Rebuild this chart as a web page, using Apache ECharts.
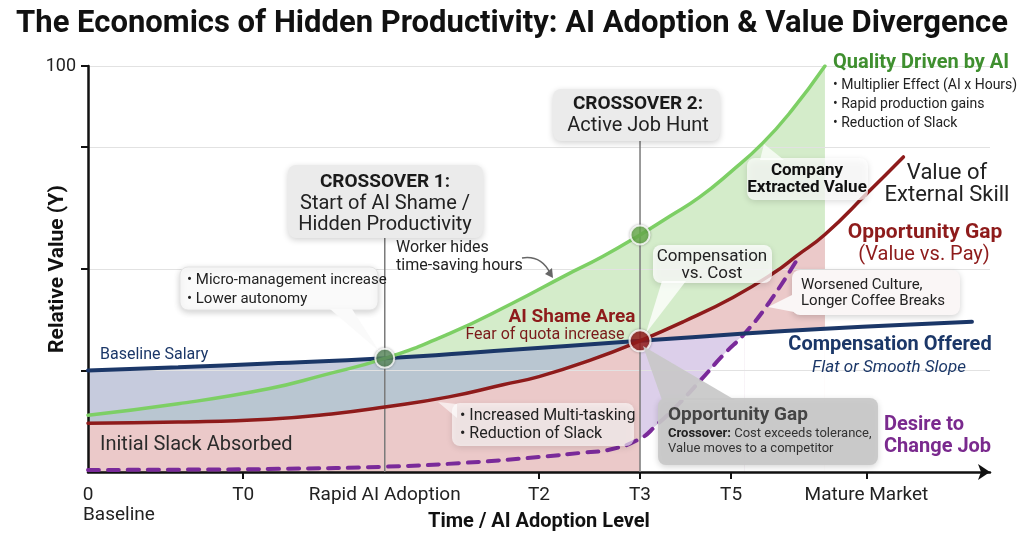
<!DOCTYPE html>
<html>
<head>
<meta charset="utf-8">
<script src="https://cdn.jsdelivr.net/npm/echarts@6/dist/echarts.min.js"></script>
<style>
  html, body { margin: 0; padding: 0; background: #fff; }
  #chart { width: 1024px; height: 538px; }
</style>
</head>
<body>
<div id="chart"></div>
<script>
// x is a 0..100 "adoption level" scale, y is relative value 0..100
const xTickPos = [0, 17.2, 32.9, 50, 61.2, 71.3, 86.3]
const xTickLabels = ['0', 'T0', 'Rapid AI Adoption', 'T2', 'T3', 'T5', 'Mature Market']

const cross1X = 32.9   // crossover 1 (AI shame starts)
const cross2X = 61.2   // crossover 2 (active job hunt)
const purpleCrossX = 72.8 // desire-to-change line meets compensation line
const greenEndX = 81.7

// Quality Driven by AI
const qualityAI = [[0, 14], [10, 16.8], [20, 20.5], [26, 23.8], [32.9, 28], [40, 34], [47, 41.5], [53, 48.5],
  [57, 53], [61.2, 58.4], [64.5, 63], [67.8, 67.7], [71.3, 74], [74.8, 81], [78, 89], [81.7, 100]]
// Value of External Skill
const externalSkill = [[0, 12], [10, 12.3], [20, 13], [27, 14.3], [32.9, 16], [40, 18.5], [46, 21.5], [50, 23.5],
  [56, 27.8], [61.2, 32.3], [66, 37], [71.5, 43], [76, 49], [78.6, 53.3], [81.7, 58.5], [86.4, 68.7], [90.4, 77.6]]
// Compensation Offered / Baseline Salary
const compensation = [[0, 25], [10, 25.8], [20, 26.7], [32.9, 28], [45, 29.8], [61.2, 32.3], [72.8, 34.1],
  [81.7, 35.3], [90, 36.2], [98, 37]]
// Desire to Change Job
const desireChange = [[0, 0.5], [12, 0.6], [22, 0.8], [32.9, 1.3], [42, 2.3], [50, 3.7], [55, 4.8], [58, 5.6],
  [61.2, 8.2], [63, 11.5], [65.5, 16.8], [68, 22.8], [70.5, 29], [72.8, 34.1], [75.6, 42], [78.8, 53]]

const cross1Point = [[32.9, 28]]
const cross2Green = [[61.2, 58.4]]
const cross2Red = [[61.2, 32.3]]

const FONT = 'Roboto, "Noto Sans", sans-serif'

function between(arr, a, b) {
  return arr.filter(p => p[0] >= a - 1e-9 && p[0] <= b + 1e-9)
}

function fill(name, data, color) {
  return {
    name: name,
    type: 'line',
    data: data,
    smooth: true,
    symbol: 'none',
    silent: true,
    z: 1,
    lineStyle: { width: 0, opacity: 0 },
    areaStyle: { color: color, opacity: 1, origin: 'start' }
  }
}

function curve(name, data, color, width, type) {
  return {
    name: name,
    type: 'line',
    data: data,
    smooth: true,
    symbol: 'none',
    z: 4,
    lineStyle: { color: color, width: width, type: type || 'solid', cap: 'round' }
  }
}

function guide(x, top) {
  return {
    type: 'line',
    data: [[x, 0], [x, top]],
    symbol: 'none',
    z: 3,
    lineStyle: { color: '#7a7a7a', width: 1.5 }
  }
}

function dot(data, color, size) {
  return {
    type: 'scatter',
    data: data,
    symbolSize: size,
    z: 5,
    itemStyle: { color: color, borderColor: '#fff', borderWidth: 2, shadowBlur: 3, shadowColor: 'rgba(0,0,0,0.3)' }
  }
}

function txt(x, y, text, size, opts) {
  opts = opts || {}
  return {
    type: 'text', x: x, y: y, z: 110,
    style: {
      text: text,
      fontFamily: FONT,
      fontSize: size,
      fontWeight: opts.bold ? 'bold' : 'normal',
      fontStyle: opts.italic ? 'italic' : 'normal',
      fill: opts.color || '#222',
      align: opts.align || 'left',
      verticalAlign: 'middle',
      lineHeight: opts.lh || size + 2,
      rich: opts.rich
    }
  }
}

function box(x, y, w, h, color, pointer, stroke) {
  const els = [{
    type: 'rect', z: 100,
    shape: { x: x, y: y, width: w, height: h, r: 8 },
    style: { fill: color, stroke: stroke || null, lineWidth: 1, shadowBlur: 6, shadowOffsetY: 2, shadowColor: 'rgba(0,0,0,0.18)' }
  }]
  if (pointer) {
    els.push({ type: 'polygon', z: 101, shape: { points: pointer }, style: { fill: color } })
  }
  return els
}

const chart = echarts.init(document.getElementById('chart'))

chart.setOption({
  backgroundColor: '#fff',
  animation: false,
  title: {
    text: 'The Economics of Hidden Productivity: AI Adoption & Value Divergence',
    left: 'center',
    top: 4,
    textStyle: { fontFamily: FONT, fontSize: 31, fontWeight: 'bold', color: '#111' }
  },
  grid: { left: 88, right: 34, top: 66, bottom: 66, outerBoundsMode: 'none' },
  xAxis: {
    type: 'value', min: 0, max: 100, z: 2,
    name: 'Time / AI Adoption Level',
    nameLocation: 'middle',
    nameGap: 40,
    nameMoveOverlap: false,
    nameTextStyle: { fontFamily: FONT, fontSize: 20, fontWeight: 'bold', color: '#111' },
    axisLine: { lineStyle: { color: '#111', width: 2.5 }, symbol: ['none', 'arrow'], symbolSize: [12, 12] },
    axisTick: { show: true, customValues: [17.2, 50, 61.2, 71.3, 86.3], length: 7, lineStyle: { color: '#111', width: 2 } },
    axisLabel: {
      customValues: xTickPos,
      margin: 14,
      fontFamily: FONT, fontSize: 19, color: '#222',
      formatter: function (v) {
        const i = xTickPos.findIndex(p => Math.abs(p - v) < 1e-6)
        return i >= 0 ? xTickLabels[i] : ''
      }
    },
    splitLine: { show: false }
  },
  yAxis: {
    type: 'value', min: 0, max: 100, interval: 20, z: 2,
    name: 'Relative Value (Y)',
    nameLocation: 'middle',
    nameGap: 20,
    nameMoveOverlap: false,
    nameTextStyle: { fontFamily: FONT, fontSize: 21, fontWeight: 'bold', color: '#111' },
    axisLine: { show: true, lineStyle: { color: '#111', width: 2.5 } },
    axisTick: { show: true, customValues: [25, 50, 80, 100], length: 7, lineStyle: { color: '#111', width: 2 } },
    axisLabel: { customValues: [100], margin: 12, fontFamily: FONT, fontSize: 18, color: '#222' },
    splitLine: { show: true, lineStyle: { color: '#e2e2e2', width: 1 } }
  },
  series: [
    fill('greenFill', between(qualityAI, cross1X, greenEndX), '#d4ecca'),
    fill('blueFillA', between(compensation, 0, cross1X), '#c6cbdd'),
    fill('blueFillB', between(qualityAI, 0, cross1X), '#b9c6d1'),
    fill('blueFillC', between(compensation, cross1X, cross2X), '#b9c6d1'),
    fill('pinkFill', between(externalSkill, 0, greenEndX), '#ebc9c9'),
    fill('lavenderFill', between(compensation, cross2X, purpleCrossX), '#dccfea'),
    fill('whiteFillA', between(desireChange, cross2X, purpleCrossX), '#ffffff'),
    fill('whiteFillB', between(compensation, purpleCrossX, greenEndX), '#ffffff'),
    guide(cross1X, 60),
    guide(cross2X, 83),
    curve('Desire to Change Job', desireChange, '#7a2a9a', 4, [11, 9]),
    curve('Compensation Offered', compensation, '#1b3768', 4),
    curve('Value of External Skill', externalSkill, '#8e1b1b', 3.5),
    curve('Quality Driven by AI', qualityAI, '#7dcf65', 3.5),
    dot(cross1Point, '#5e8f62', 19),
    dot(cross2Green, '#6cb24f', 19),
    dot(cross2Red, '#9a1b1b', 21)
  ],
  graphic: [].concat(
    // crossover 1
    box(288, 165, 195, 73, '#ebebeb'),
    [txt(385, 182, 'CROSSOVER 1:', 19, { bold: true, align: 'center', color: '#1a1a1a' }),
     txt(385, 204, 'Start of AI Shame /', 20, { align: 'center' }),
     txt(385, 225, 'Hidden Productivity', 20, { align: 'center' })],
    // crossover 2
    box(553, 89, 167, 52, '#ebebeb'),
    [txt(638, 104, 'CROSSOVER 2:', 19, { bold: true, align: 'center', color: '#1a1a1a' }),
     txt(638, 126, 'Active Job Hunt', 20, { align: 'center' })],
    // worker hides note + arrow
    [txt(396, 248, 'Worker hides', 16),
     txt(396, 266, 'time-saving hours', 16),
     { type: 'bezierCurve', z: 105, shape: { x1: 522, y1: 258, x2: 550, y2: 273, cpx1: 541, cpy1: 255 },
       style: { stroke: '#666', lineWidth: 1.5, fill: null } },
     { type: 'polygon', z: 105, shape: { points: [[553, 278], [545, 274], [552, 268]] }, style: { fill: '#666' } }],
    // micro-management
    box(180, 267, 198, 43, '#fafafa', [[330, 309], [352, 309], [379, 351]], '#e4e4e4'),
    [txt(187, 280, '• Micro-management increase', 15),
     txt(187, 299, '• Lower autonomy', 15)],
    // AI shame area
    [txt(572, 317, 'AI Shame Area', 19, { bold: true, align: 'center', color: '#8e1b1b' }),
     txt(545, 335, 'Fear of quota increase', 16, { align: 'center', color: '#7a1a1a' })],
    // compensation vs cost
    box(653, 245, 119, 38, 'rgba(255,255,255,0.78)', [[662, 281], [686, 281], [646, 333]]),
    [txt(712, 257, 'Compensation', 17, { align: 'center' }),
     txt(712, 274, 'vs. Cost', 17, { align: 'center' })],
    // company extracted value
    box(747, 158, 121, 42, 'rgba(255,255,255,0.72)', [[760, 160], [784, 160], [764, 144]]),
    [txt(807, 171, 'Company', 17, { bold: true, align: 'center', color: '#111' }),
     txt(807, 188, 'Extracted Value', 17, { bold: true, align: 'center', color: '#111' })],
    // worsened culture
    box(792, 270, 168, 45, '#faf6f6', [[794, 294], [794, 312], [768, 307]]),
    [txt(801, 285, 'Worsened Culture,', 15),
     txt(801, 301, 'Longer Coffee Breaks', 15)],
    // multitasking
    box(452, 403, 182, 43, 'rgba(255,255,255,0.62)', [[438, 402], [457, 404], [457, 418]]),
    [txt(460, 416, '• Increased Multi-tasking', 16),
     txt(460, 434, '• Reduction of Slack', 16)],
    // opportunity gap callout
    box(658, 398, 220, 67, 'rgba(200,200,200,0.92)', [[643, 346], [662, 400], [735, 400]]),
    [txt(668, 415, 'Opportunity Gap', 19, { bold: true, color: '#444' }),
     txt(668, 434, '{b|Crossover:} Cost exceeds tolerance,', 13, { color: '#333', rich: { b: { fontWeight: 'bold', fontSize: 13, fontFamily: FONT, fill: '#222' } } }),
     txt(668, 449, 'Value moves to a competitor', 13, { color: '#333' })],
    // right side labels
    [txt(833, 63, 'Quality Driven by AI', 20, { bold: true, color: '#3f8f2f' }),
     txt(833, 85, '• Multiplier Effect (AI x Hours)', 14),
     txt(833, 104, '• Rapid production gains', 14),
     txt(833, 123, '• Reduction of Slack', 14),
     txt(947, 173, 'Value of', 22, { align: 'center' }),
     txt(947, 195, 'External Skill', 22, { align: 'center' }),
     txt(925, 233, 'Opportunity Gap', 21, { bold: true, align: 'center', color: '#8e1b1b' }),
     txt(924, 255, '(Value vs. Pay)', 20, { align: 'center', color: '#8e1b1b' }),
     txt(890, 345, 'Compensation Offered', 20, { bold: true, align: 'center', color: '#1b3768' }),
     txt(889, 368, 'Flat or Smooth Slope', 17, { italic: true, align: 'center', color: '#1b3768' }),
     txt(884, 425, 'Desire to', 20, { bold: true, color: '#7a2a8e' }),
     txt(884, 447, 'Change Job', 20, { bold: true, color: '#7a2a8e' })],
    // left side labels
    [txt(100, 355, 'Baseline Salary', 16, { color: '#1b3768' }),
     txt(100, 445, 'Initial Slack Absorbed', 20, { color: '#2b2b2b' }),
     txt(83, 515, 'Baseline', 19)]
  )
})
</script>
</body>
</html>
